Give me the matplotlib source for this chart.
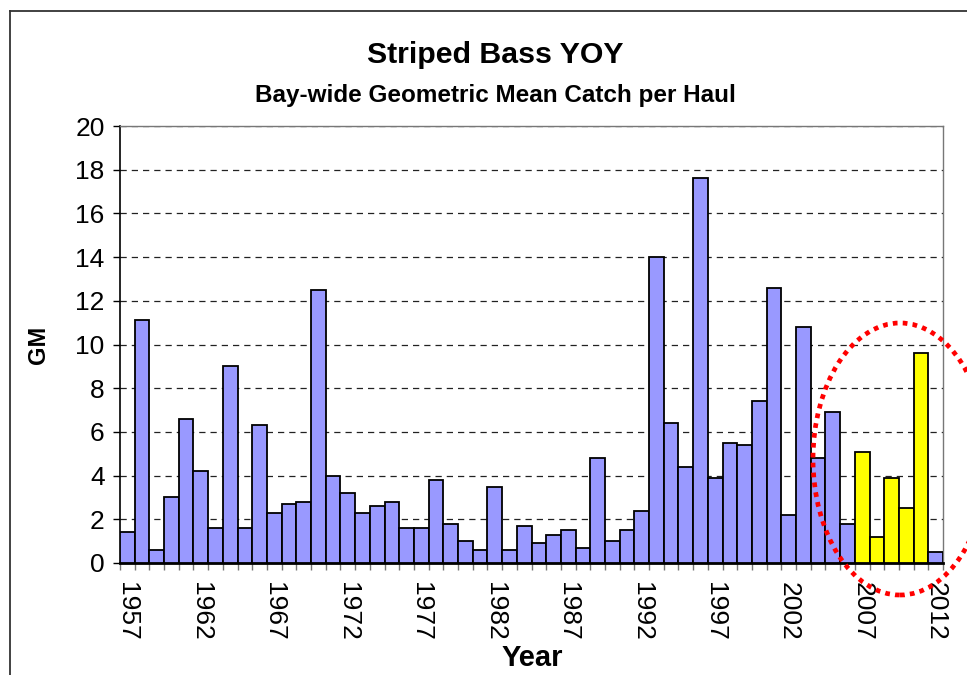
import matplotlib
matplotlib.use("Agg")
from matplotlib import pyplot as plt
from matplotlib.lines import Line2D
from matplotlib.patches import Ellipse

plt.rcParams["font.family"] = ["Liberation Sans", "DejaVu Sans"]

# Bay-wide geometric mean catch per haul, one value per year
years = list(range(1957, 2013))
gm = [
    1.4, 11.1, 0.6, 3.0, 6.6, 4.2, 1.6, 9.0, 1.6, 6.3,   # 1957-1966
    2.3, 2.7, 2.8, 12.5, 4.0, 3.2, 2.3, 2.6, 2.8, 1.6,   # 1967-1976
    1.6, 3.8, 1.8, 1.0, 0.6, 3.5, 0.6, 1.7, 0.9, 1.3,    # 1977-1986
    1.5, 0.7, 4.8, 1.0, 1.5, 2.4, 14.0, 6.4, 4.4, 17.6,  # 1987-1996
    3.9, 5.5, 5.4, 7.4, 12.6, 2.2, 10.8, 4.8, 6.9, 1.8,  # 1997-2006
    5.1, 1.2, 3.9, 2.5, 9.6, 0.5,                        # 2007-2012
]
highlight_years = [2007, 2008, 2009, 2010, 2011]
label_years = [1957, 1962, 1967, 1972, 1977, 1982, 1987, 1992, 1997, 2002, 2007, 2012]

W, H = 967, 675
fig = plt.figure(figsize=(W / 100, H / 100), dpi=100)
ax = fig.add_axes([120 / W, 1 - 563 / H, (943 - 120) / W, (563 - 126) / H])

pos = list(range(len(years)))
colors = ["#FFFF00" if y in highlight_years else "#9999FF" for y in years]
ax.bar(pos, gm, width=1.0, color=colors, edgecolor="black", linewidth=1.3, zorder=3)

ax.set_xlim(-0.5, len(years) - 0.5)
ax.set_ylim(0, 20)
ax.set_yticks(range(0, 21, 2))
ax.yaxis.grid(True, color="#222222", linestyle=(0, (5, 4)), linewidth=0.9, zorder=0)

# year labels every 5 years, boundary ticks between bars
ax.set_xticks([years.index(y) for y in label_years])
ax.set_xticklabels([str(y) for y in label_years], rotation=-90, fontsize=19)
ax.set_xticks([p - 0.5 for p in pos] + [len(years) - 0.5], minor=True)
ax.tick_params(axis="x", which="major", length=0, pad=14)
ax.tick_params(axis="x", which="minor", length=5, width=1, color="#777777", direction="out")
ax.tick_params(axis="y", labelsize=19, length=5, width=1, direction="out", pad=6)

for s in ["left", "bottom"]:
    ax.spines[s].set_color("black")
ax.spines["left"].set_linewidth(1.2)
ax.spines["bottom"].set_linewidth(2)
ax.spines["right"].set_color("#777777")
ax.spines["top"].set_color("#777777")
ax.spines["right"].set_linewidth(1)
ax.spines["top"].set_linewidth(1)

# titles and axis names
fig.text(495 / W, 1 - 63 / H, "Striped Bass YOY", ha="center", va="baseline",
         fontsize=21.8, fontweight="bold")
fig.text(495 / W, 1 - 102 / H, "Bay-wide Geometric Mean Catch per Haul", ha="center",
         va="baseline", fontsize=17.5, fontweight="bold")
fig.text(38 / W, 1 - 345 / H, "GM", rotation=90, ha="center", va="center",
         fontsize=17, fontweight="bold")
fig.text(532 / W, 1 - 666 / H, "Year", ha="center", va="baseline",
         fontsize=21, fontweight="bold")

# chart area border (cropped at right and bottom)
fig.add_artist(Line2D([10 / W, 10 / W], [0, 1 - 11 / H], transform=fig.transFigure,
                      color="#333333", linewidth=1.3))
fig.add_artist(Line2D([10 / W, 1], [1 - 11 / H, 1 - 11 / H], transform=fig.transFigure,
                      color="#333333", linewidth=1.3))

# red dotted ellipse around the recent years
ell = Ellipse((900 / W, 1 - 459 / H), 174 / W, 272 / H, transform=fig.transFigure,
              fill=False, edgecolor="red", linewidth=3.4, linestyle=(0, (1, 1.1)),
              clip_on=False, zorder=10)
fig.add_artist(ell)

fig.savefig("out.png", dpi=100)
